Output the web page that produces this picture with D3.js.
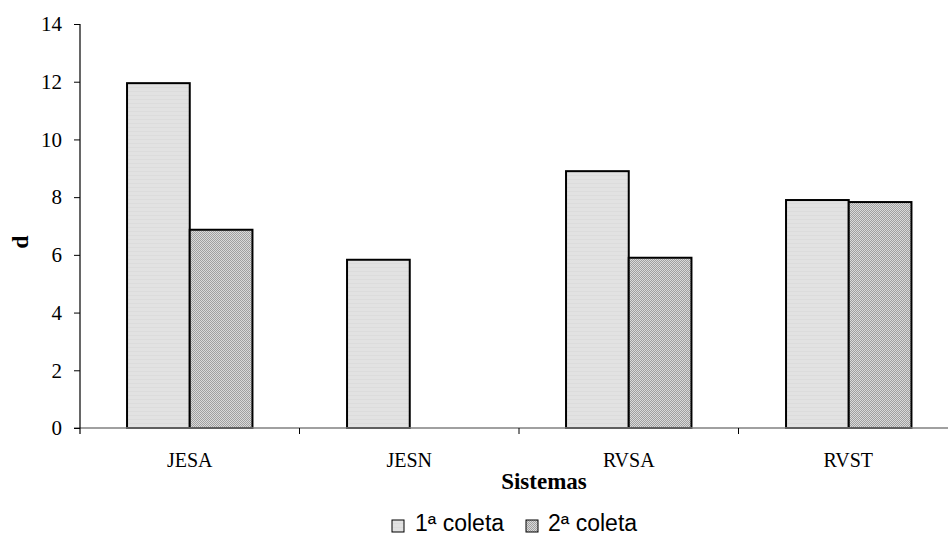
<!DOCTYPE html>
<html>
<head>
<meta charset="utf-8">
<script src="https://cdn.jsdelivr.net/npm/d3@7"></script>
<style>
  html, body { margin: 0; padding: 0; background: #fff; }
  svg { display: block; }
</style>
</head>
<body>
<div id="chart"></div>
<script>
// Índice d por sistema, duas coletas
const categories = ["JESA", "JESN", "RVSA", "RVST"];
const seriesNames = ["1ª coleta", "2ª coleta"];
const coleta1 = [11.95, 5.83, 8.90, 7.90];
const coleta2 = [6.87, null, 5.90, 7.83];
const yTicks = [0, 2, 4, 6, 8, 10, 12, 14];

const W = 948, H = 536;
const serif = "'Liberation Serif', 'Times New Roman', serif";
const sans = "'Liberation Sans', Arial, sans-serif";

const svg = d3.select("#chart").append("svg")
  .attr("width", W).attr("height", H);

const defs = svg.append("defs");
// fine horizontal banding for the first series
const p1 = defs.append("pattern").attr("id", "fill1")
  .attr("patternUnits", "userSpaceOnUse").attr("width", 4).attr("height", 4);
p1.append("rect").attr("width", 4).attr("height", 4).attr("fill", "#e2e2e2");
p1.append("rect").attr("y", 3).attr("width", 4).attr("height", 1).attr("fill", "#dcdcdc");
// one-pixel checker for the second series
const p2 = defs.append("pattern").attr("id", "fill2")
  .attr("patternUnits", "userSpaceOnUse").attr("width", 2).attr("height", 2);
p2.append("rect").attr("width", 2).attr("height", 2).attr("fill", "#dadada");
p2.append("rect").attr("width", 1).attr("height", 1).attr("fill", "#a0a0a0");
p2.append("rect").attr("x", 1).attr("y", 1).attr("width", 1).attr("height", 1).attr("fill", "#a0a0a0");

const x0 = 80, x1 = 958, yTop = 24, yBot = 428;

const x = d3.scaleBand().domain(categories).range([x0, x1]).paddingInner(0).paddingOuter(0);
const xs = d3.scaleBand().domain(seriesNames).range([0, x.bandwidth()]).paddingInner(0).paddingOuter(0.75);
const y = d3.scaleLinear().domain([0, 14]).range([yBot, yTop]);

const rows = categories.map((c, i) => ({ cat: c, vals: [coleta1[i], coleta2[i]] }));

const g = svg.append("g");
// whole-pixel group offsets keep the checker fill aligned to the pixel grid
const groups = g.selectAll("g.cat").data(rows).join("g")
  .attr("class", "cat")
  .attr("transform", d => `translate(${Math.round(x(d.cat))},0)`);

groups.selectAll("rect").data(d => d.vals.map((v, j) => ({ v, s: seriesNames[j], j })).filter(e => e.v != null))
  .join("rect")
  .attr("x", e => xs(e.s))
  .attr("y", e => y(e.v))
  .attr("width", xs.bandwidth())
  .attr("height", e => y(0) - y(e.v))
  .attr("fill", e => e.j === 0 ? "url(#fill1)" : "url(#fill2)")
  .attr("stroke", "#000")
  .attr("stroke-width", 2);

// x axis
const xAxis = svg.append("g").attr("transform", `translate(0,${yBot})`);
xAxis.append("line").attr("x1", x0 - 6).attr("x2", x1).attr("y1", 0).attr("y2", 0)
  .attr("stroke", "#808080").attr("stroke-width", 1.5);
const bounds = categories.map(c => x(c)).concat([x1]);
xAxis.selectAll("line.tk").data(bounds.slice(1)).join("line").attr("class", "tk")
  .attr("x1", d => d).attr("x2", d => d).attr("y1", 0).attr("y2", 6)
  .attr("stroke", "#000").attr("stroke-width", 1);
xAxis.selectAll("text").data(categories).join("text")
  .attr("x", d => x(d) + x.bandwidth() / 2)
  .attr("y", 39)
  .attr("text-anchor", "middle")
  .attr("font-family", serif)
  .attr("font-size", 20)
  .attr("fill", "#000")
  .text(d => d);

// y axis
const yAxis = svg.append("g").attr("transform", `translate(${x0},0)`)
  .call(d3.axisLeft(y).tickValues(yTicks).tickSize(6).tickPadding(12).tickFormat(d3.format("d")));
yAxis.select(".domain").attr("stroke", "#000").attr("stroke-width", 1.2)
  .attr("d", `M0,${yTop}V${yBot + 6}`);
yAxis.selectAll(".tick line").attr("stroke", "#000").attr("stroke-width", 1);
yAxis.selectAll(".tick text")
  .attr("font-family", serif)
  .attr("font-size", 21).attr("fill", "#000");

// axis titles
svg.append("text")
  .attr("transform", `translate(28,242) rotate(-90)`)
  .attr("text-anchor", "middle")
  .attr("font-family", serif)
  .attr("font-weight", "bold").attr("font-size", 24)
  .text("d");
svg.append("text")
  .attr("x", 544).attr("y", 489)
  .attr("text-anchor", "middle")
  .attr("font-family", serif)
  .attr("font-weight", "bold").attr("font-size", 23)
  .text("Sistemas");

// legend
const legendX = [392, 526];
const leg = svg.append("g");
seriesNames.forEach((s, j) => {
  leg.append("rect")
    .attr("x", legendX[j]).attr("y", 520).attr("width", 12).attr("height", 12)
    .attr("fill", j === 0 ? "url(#fill1)" : "url(#fill2)")
    .attr("stroke", "#000").attr("stroke-width", 1);
  leg.append("text")
    .attr("x", legendX[j] + (j === 0 ? 23 : 22)).attr("y", 531)
    .attr("font-family", sans)
    .attr("font-size", 23).attr("fill", "#000")
    .text(s);
});
</script>
</body>
</html>
